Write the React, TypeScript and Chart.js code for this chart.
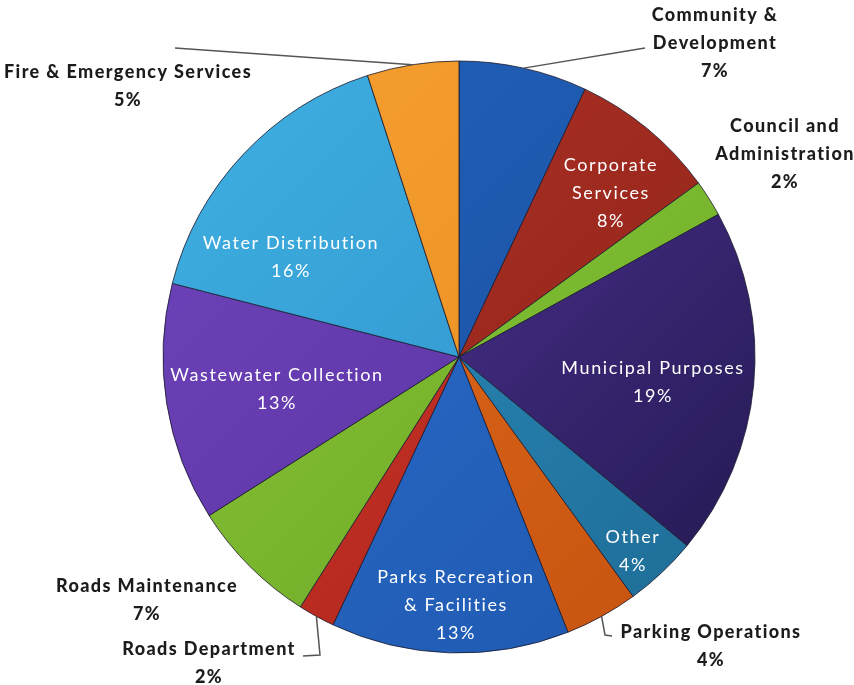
import React, { useEffect, useRef } from "react";
import { Chart, registerables } from "chart.js";

Chart.register(...registerables);

// ---- data ----
const categories: string[] = [
  "Community & Development",
  "Corporate Services",
  "Council and Administration",
  "Municipal Purposes",
  "Other",
  "Parking Operations",
  "Parks Recreation & Facilities",
  "Roads Department",
  "Roads Maintenance",
  "Wastewater Collection",
  "Water Distribution",
  "Fire & Emergency Services",
];
const shares: number[] = [7, 8, 2, 19, 4, 4, 13, 2, 7, 13, 16, 5];
const labelLines: string[][] = [
  ["Community &", "Development"],
  ["Corporate", "Services"],
  ["Council and", "Administration"],
  ["Municipal Purposes"],
  ["Other"],
  ["Parking Operations"],
  ["Parks Recreation", "& Facilities"],
  ["Roads Department"],
  ["Roads Maintenance"],
  ["Wastewater Collection"],
  ["Water Distribution"],
  ["Fire & Emergency Services"],
];

// ---- styles ----
const lightColors = [
  "#2162bb", "#b03226", "#8ccb3c", "#5a3aa6", "#2f93c4", "#e56d20",
  "#2a6ed0", "#d2352c", "#8dc93a", "#7044bd", "#3fb0e2", "#f7a032",
];
const darkColors = [
  "#194d9c", "#8c2218", "#6aa824", "#21174d", "#1d6a94", "#c4520e",
  "#1f58ad", "#a82519", "#67a122", "#55309a", "#2b8cc6", "#e58a1c",
];

type Place = {
  inside: boolean;
  dx: number;
  dy: number;
  leader?: number[][];
};
// text block centre offsets from the pie centre
const placements: Place[] = [
  { inside: false, dx: 256, dy: -314, leader: [[186, -309]] },
  { inside: true, dx: 152, dy: -164 },
  { inside: false, dx: 326, dy: -203 },
  { inside: true, dx: 194, dy: 25 },
  { inside: true, dx: 174, dy: 194 },
  { inside: false, dx: 252, dy: 289, leader: [[146, 278], [153, 279]] },
  { inside: true, dx: -3, dy: 248 },
  { inside: false, dx: -250, dy: 306, leader: [[-139, 298], [-156, 299]] },
  { inside: false, dx: -312, dy: 243 },
  { inside: true, dx: -182, dy: 32 },
  { inside: true, dx: -168, dy: -100 },
  { inside: false, dx: -331, dy: -271, leader: [[-284, -309]] },
];

const labelPlugin = {
  id: "sliceLabels",
  afterDatasetsDraw(chart: any) {
    const ctx = chart.ctx as CanvasRenderingContext2D;
    const meta = chart.getDatasetMeta(0);
    ctx.save();
    meta.data.forEach((arc: any, i: number) => {
      const p = placements[i];
      const { x, y, startAngle, endAngle, outerRadius } = arc.getProps(
        ["x", "y", "startAngle", "endAngle", "outerRadius"],
        true
      );
      const mid = (startAngle + endAngle) / 2;
      if (p.leader) {
        ctx.strokeStyle = "#555";
        ctx.lineWidth = 1.5;
        ctx.beginPath();
        ctx.moveTo(x + Math.cos(mid) * outerRadius, y + Math.sin(mid) * outerRadius);
        p.leader.forEach((pt) => ctx.lineTo(x + pt[0], y + pt[1]));
        ctx.stroke();
      }
      const lines = [...labelLines[i], shares[i] + "%"];
      const lh = 28;
      const cx = x + p.dx;
      const cy = y + p.dy;
      const top = cy - ((lines.length - 1) * lh) / 2;
      ctx.textAlign = "center";
      ctx.textBaseline = "middle";
      if (p.inside) {
        ctx.fillStyle = "#ffffff";
        ctx.font = "18px Lato";
        (ctx as any).letterSpacing = "1.6px";
      } else {
        ctx.fillStyle = "#1c1c1c";
        ctx.font = "900 18px Lato";
        (ctx as any).letterSpacing = "1.4px";
      }
      lines.forEach((t, k) => ctx.fillText(t, cx, top + k * lh));
    });
    ctx.restore();
  },
};

export default function App() {
  const ref = useRef<HTMLCanvasElement | null>(null);
  useEffect(() => {
    if (!ref.current) return;
    const chart = new Chart(ref.current, {
      type: "pie",
      data: {
        labels: categories,
        datasets: [
          {
            data: shares,
            backgroundColor: (c: any) => {
              const ch = c.chart;
              const area = ch.chartArea;
              const i = c.dataIndex;
              if (!area || i === undefined) return lightColors[i ?? 0];
              const g = ch.ctx.createLinearGradient(area.left, area.top, area.right, area.bottom);
              g.addColorStop(0, lightColors[i]);
              g.addColorStop(1, darkColors[i]);
              return g;
            },
            borderColor: "rgba(25,25,45,0.8)",
            borderWidth: 1,
          },
        ],
      },
      options: {
        responsive: false,
        animation: false,
        radius: 296,
        layout: { padding: { left: 163, right: 99, top: 61, bottom: 32 } },
        plugins: {
          legend: { display: false },
          tooltip: { enabled: false },
        },
      } as any,
      plugins: [labelPlugin],
    });
    return () => chart.destroy();
  }, []);
  return (
    <div style={{ position: "fixed", left: 0, top: 0, width: 854, height: 685, background: "#fff" }}>
      <canvas ref={ref} width={854} height={685} style={{ width: 854, height: 685 }} />
    </div>
  );
}
